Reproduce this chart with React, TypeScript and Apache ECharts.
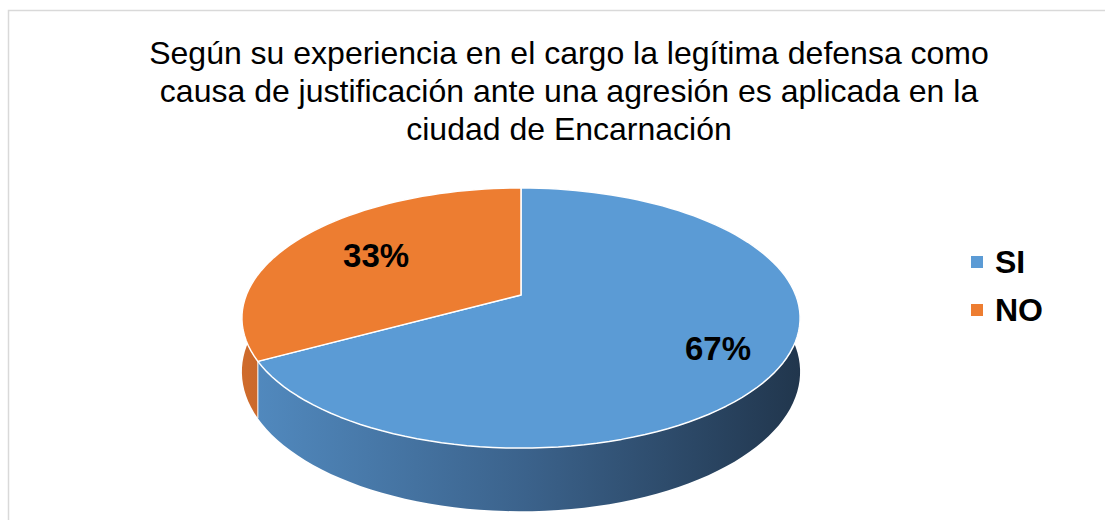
import React, { useEffect, useRef } from "react";
import * as echarts from "echarts";

const categories = ["SI", "NO"];
const values = [67, 33];
const percentLabels = ["67%", "33%"];
const topColors = ["#5b9bd5", "#ed7d31"];
const titleLines = [
  "Según su experiencia en el cargo la legítima defensa como",
  "causa de justificación ante una agresión es aplicada en la",
  "ciudad de Encarnación",
];

// pseudo-3D geometry (perspective projection of a tilted disc)
const CX = 521;
const CY = 295;
const R = 274.7;
const DIST = 5.65 * R;
const K = 0.4587;
const DEPTH = 52;
const STEPS = 160;

function proj(theta: number, r: number, dz: number): number[] {
  const X = r * R * Math.sin(theta);
  const Z = r * R * Math.cos(theta);
  const s = DIST / (DIST + Z);
  return [CX + X * s, CY - Z * K * s + dz * s];
}

const total = values.reduce((a, b) => a + b, 0);
function sliceAngles(i: number): number[] {
  let acc = 0;
  for (let j = 0; j < i; j++) acc += values[j];
  return [(acc / total) * Math.PI * 2, ((acc + values[i]) / total) * Math.PI * 2];
}

function arc(a0: number, a1: number, dz: number): number[][] {
  const pts: number[][] = [];
  const n = Math.max(4, Math.round((STEPS * (a1 - a0)) / (Math.PI * 2)));
  for (let k = 0; k <= n; k++) pts.push(proj(a0 + ((a1 - a0) * k) / n, 1, dz));
  return pts;
}

const wallGradients = [
  {
    type: "linear",
    x: 255,
    y: 0,
    x2: 800,
    y2: 0,
    global: true,
    colorStops: [
      { offset: 0, color: "#5189be" },
      { offset: 0.5, color: "#3b628b" },
      { offset: 1, color: "#21364d" },
    ],
  },
  {
    type: "linear",
    x: 240,
    y: 0,
    x2: 280,
    y2: 0,
    global: true,
    colorStops: [
      { offset: 0, color: "#d06c2c" },
      { offset: 1, color: "#c4652b" },
    ],
  },
];

export default function App() {
  const ref = useRef<HTMLDivElement>(null);
  useEffect(() => {
    document.body.style.margin = "0";
    if (!ref.current) return;
    const chart = echarts.init(ref.current, null, { renderer: "svg" });

    const wallSeries = {
      type: "custom",
      name: "walls",
      coordinateSystem: "none",
      z: 1,
      silent: true,
      data: values.map((v) => [v]),
      renderItem: (params: any) => {
        const i = params.dataIndex;
        const [a0, a1] = sliceAngles(i);
        const top = arc(a0, a1, 0);
        const bottom = arc(a0, a1, DEPTH).reverse();
        const children: any[] = [
          {
            type: "polygon",
            shape: { points: top.concat(bottom) },
            style: { fill: wallGradients[i], stroke: null },
          },
        ];
        if (Math.cos(a0) < 0) {
          const p = proj(a0, 1, 0);
          const q = proj(a0, 1, DEPTH);
          children.push({
            type: "line",
            shape: { x1: p[0], y1: p[1], x2: q[0], y2: q[1] },
            style: { stroke: "rgba(255,255,255,0.8)", lineWidth: 1.2 },
          });
        }
        return { type: "group", children };
      },
    };

    const topSeries = categories.map((name, i) => ({
      type: "custom",
      name,
      coordinateSystem: "none",
      z: 2,
      silent: true,
      itemStyle: { color: topColors[i] },
      data: [[values[i]]],
      renderItem: () => {
        const [a0, a1] = sliceAngles(i);
        const pts = [[CX, CY]].concat(arc(a0, a1, 0));
        const mid = (a0 + a1) / 2;
        const lp = proj(mid, 0.72, 0);
        return {
          type: "group",
          children: [
            {
              type: "polygon",
              shape: { points: pts },
              style: { fill: topColors[i], stroke: "#ffffff", lineWidth: 1.5, lineJoin: "round" },
            },
            {
              type: "text",
              x: lp[0] + 15,
              y: lp[1] + 4,
              style: {
                text: percentLabels[i],
                fill: "#000000",
                font: "bold 33px 'Liberation Sans', Arial, sans-serif",
                textAlign: "center",
                textVerticalAlign: "middle",
              },
            },
          ],
        };
      },
    }));

    chart.setOption({
      animation: false,
      color: topColors,
      title: {
        text: titleLines.join("\n"),
        left: 564,
        top: 29,
        textAlign: "center",
        textStyle: {
          fontFamily: "'Liberation Sans', Arial, sans-serif",
          fontSize: 32,
          fontWeight: "normal",
          color: "#000000",
          lineHeight: 38,
        },
      },
      legend: {
        data: categories,
        orient: "vertical",
        left: 966,
        top: 241,
        icon: "rect",
        itemWidth: 12,
        itemHeight: 12,
        itemGap: 16,
        selectedMode: false,
        textStyle: {
          fontFamily: "'Liberation Sans', Arial, sans-serif",
          fontSize: 32,
          fontWeight: "bold",
          color: "#000000",
          padding: [0, 0, 0, 7],
        },
      },
      graphic: [
        {
          type: "rect",
          z: -1,
          silent: true,
          shape: { x: 8.5, y: 10.5, width: 1200, height: 600 },
          style: { fill: "#ffffff", stroke: "#d9d9d9", lineWidth: 1.5 },
        },
      ],
      series: [wallSeries, ...topSeries],
    });
    return () => chart.dispose();
  }, []);
  return <div ref={ref} style={{ width: 1105, height: 520 }} />;
}
